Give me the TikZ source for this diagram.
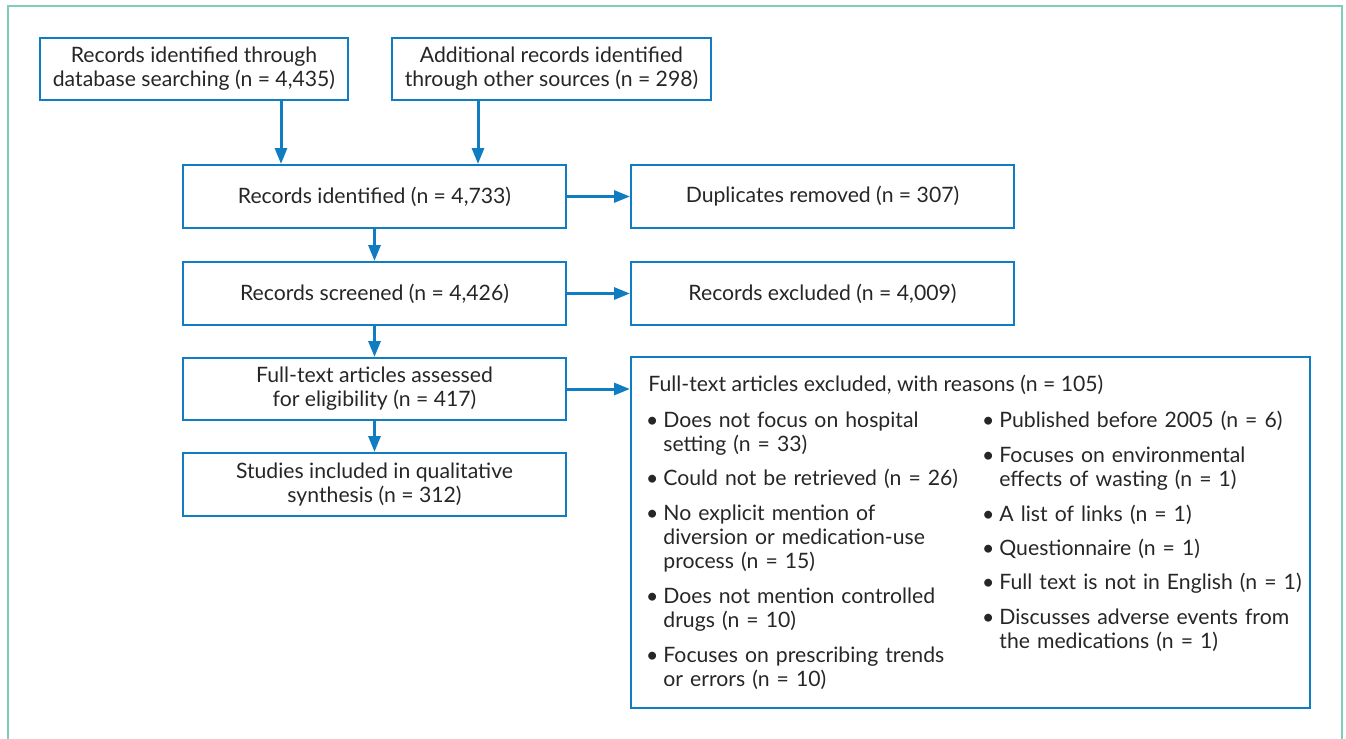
\documentclass[tikz,border=0pt]{standalone}
\usepackage{fontspec}
\setmainfont{Lato}
\usetikzlibrary{arrows.meta}
\definecolor{prismablue}{RGB}{16,124,193}
\definecolor{frameteal}{RGB}{126,206,185}
\definecolor{inkgrey}{RGB}{38,38,38}
\newcommand{\rbullet}{\llap{\textbullet\hspace{2.5pt}}}

\begin{document}
\begin{tikzpicture}[x=0.5pt,y=-0.5pt,font=\fontsize{10.6}{12}\selectfont,text=inkgrey,
    box/.style={draw=prismablue, line width=1pt, align=center, inner sep=0pt},
    flow/.style={draw=prismablue, line width=1.5pt, -{Triangle[length=8pt,width=6pt]}},
    reason/.style={anchor=base west, text width=160pt, align=left, inner sep=0pt}]
    \useasboundingbox (0,0) rectangle (1346,739);
    \draw[frameteal, line width=1pt] (7.5,739) -- (7.5,5.5) -- (1341.5,5.5) -- (1341.5,739);

    \node[box, minimum width=154pt, minimum height=31pt] (dbrec) at (194,69) {Records identified through\\database searching (n = 4,435)};
    \node[box, minimum width=159.5pt, minimum height=31pt] (otherrec) at (551.5,69) {Additional records identified\\through other sources (n = 298)};

    \node[box, minimum width=191.5pt, minimum height=31.5pt] (ident) at (374.5,196.5) {Records identified (n = 4,733)};
      \node[box, minimum width=191.5pt, minimum height=31.5pt] (dup) at (822.5,196.5) {Duplicates removed (n = 307)};
    \node[box, minimum width=191.5pt, minimum height=31.5pt] (screen) at (374.5,293.5) {Records screened (n = 4,426)};
      \node[box, minimum width=191.5pt, minimum height=31.5pt] (scrout) at (822.5,293.5) {Records excluded (n = 4,009)};
    \node[box, minimum width=191.5pt, minimum height=31pt] (elig) at (374.5,389) {Full-text articles assessed\\for eligibility (n = 417)};
      \node[box, minimum width=339.5pt, minimum height=175.5pt] (fullout) at (970.5,532.5) {};
    \node[box, minimum width=191.5pt, minimum height=31.5pt] (incl) at (374.5,484.5) {Studies included in qualitative\\synthesis (n = 312)};

    \coordinate (dbx) at (281,0);
    \coordinate (otherx) at (478,0);
    \draw[flow] (dbrec.south -| dbx) -- (ident.north -| dbx);
    \draw[flow] (otherrec.south -| otherx) -- (ident.north -| otherx);
    \draw[flow] (ident) -- (screen);
    \draw[flow] (screen) -- (elig);
    \draw[flow] (elig) -- (incl);
    \draw[flow] (ident) -- (dup);
    \draw[flow] (screen) -- (scrout);
    \draw[flow] (elig.east) -- (elig.east -| fullout.west);

    \node[anchor=base west, inner sep=0pt] (outhead) at (648,391) {Full-text articles excluded, with reasons (n = 105)};

    \node[reason] (r1) at (663,427) {\rbullet Does not focus on hospital\\setting (n = 33)};
    \node[reason] (r2) at (663,485) {\rbullet Could not be retrieved (n = 26)};
    \node[reason] (r3) at (663,520) {\rbullet No explicit mention of\\diversion or medication-use\\process (n = 15)};
    \node[reason] (r4) at (663,603) {\rbullet Does not mention controlled\\drugs (n = 10)};
    \node[reason] (r5) at (663,662) {\rbullet Focuses on prescribing trends\\or errors (n = 10)};

    \node[reason] (r6) at (999,427) {\rbullet Published before 2005 (n = 6)};
    \node[reason] (r7) at (999,462) {\rbullet Focuses on environmental\\effects of wasting (n = 1)};
    \node[reason] (r8) at (999,521) {\rbullet A list of links (n = 1)};
    \node[reason] (r9) at (999,555) {\rbullet Questionnaire (n = 1)};
    \node[reason] (r10) at (999,589) {\rbullet Full text is not in English (n = 1)};
    \node[reason] (r11) at (999,624) {\rbullet Discusses adverse events from\\the medications (n = 1)};
\end{tikzpicture}
\end{document}
